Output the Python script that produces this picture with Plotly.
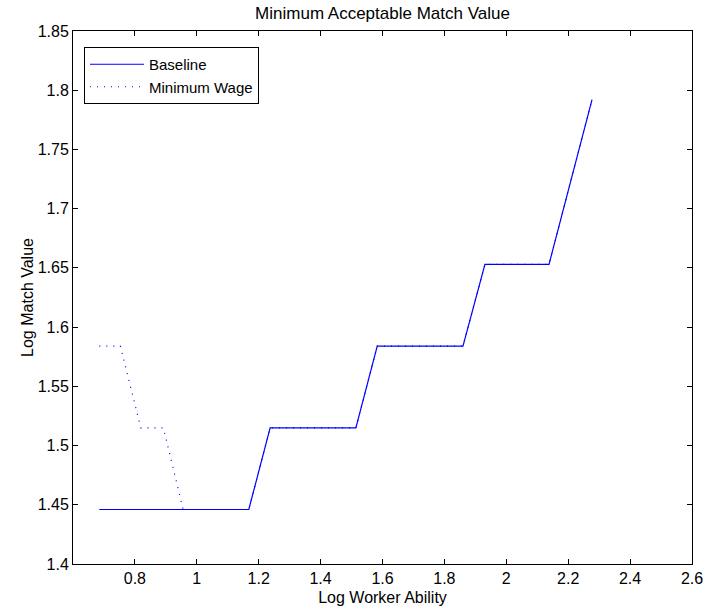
import plotly.graph_objects as go

# Data
baseline_x = [0.685, 1.168, 1.237, 1.514, 1.583, 1.860, 1.931, 2.138, 2.277]
baseline_y = [1.446, 1.446, 1.515, 1.515, 1.584, 1.584, 1.653, 1.653, 1.792]

minwage_x = [0.685, 0.753, 0.819, 0.892, 0.956, 1.168, 1.237, 1.514, 1.583, 1.860, 1.931, 2.138, 2.277]
minwage_y = [1.584, 1.584, 1.515, 1.515, 1.446, 1.446, 1.515, 1.515, 1.584, 1.584, 1.653, 1.653, 1.792]

x_ticks = [0.8, 1, 1.2, 1.4, 1.6, 1.8, 2, 2.2, 2.4, 2.6]
x_tick_labels = ["0.8", "1", "1.2", "1.4", "1.6", "1.8", "2", "2.2", "2.4", "2.6"]
y_ticks = [1.4, 1.45, 1.5, 1.55, 1.6, 1.65, 1.7, 1.75, 1.8, 1.85]
y_tick_labels = ["1.4", "1.45", "1.5", "1.55", "1.6", "1.65", "1.7", "1.75", "1.8", "1.85"]

FONT = "Liberation Sans, Arial, Helvetica, sans-serif"
FS = 16

fig = go.Figure()
fig.add_trace(go.Scatter(x=baseline_x, y=baseline_y, mode="lines", name="Baseline",
                         line=dict(color="#0000ff", width=1.2, dash="solid")))
fig.add_trace(go.Scatter(x=minwage_x, y=minwage_y, mode="lines", name="Minimum Wage",
                         line=dict(color="#0000ff", width=1.2, dash="1px,6px")))

axis_common = dict(showline=True, linecolor="black", linewidth=1, mirror="ticks",
                   ticks="inside", ticklen=5, tickcolor="black", showgrid=False,
                   zeroline=False, automargin=False,
                   tickfont=dict(family=FONT, size=FS, color="black"))

fig.update_layout(
    width=706, height=612,
    margin=dict(l=73, r=14, t=31, b=48),
    paper_bgcolor="white", plot_bgcolor="white",
    font=dict(family=FONT, size=FS, color="black"),
    title=dict(text="Minimum Acceptable Match Value", x=0.5, xanchor="center",
               xref="paper", y=1 - 13 / 612, yanchor="middle",
               font=dict(family=FONT, size=17, color="black")),
    xaxis=dict(range=[0.6, 2.6], tickvals=x_ticks, ticktext=x_tick_labels,
               title=dict(text="Log Worker Ability", standoff=5,
                          font=dict(family=FONT, size=FS, color="black")),
               **axis_common),
    yaxis=dict(range=[1.4, 1.85], tickvals=y_ticks, ticktext=y_tick_labels,
               title=dict(text="Log Match Value", standoff=0,
                          font=dict(family=FONT, size=FS, color="black")),
               **axis_common),
    legend=dict(x=(84 - 73) / 619, y=1 - (47 - 31) / 533, xanchor="left", yanchor="top",
                bordercolor="black", borderwidth=1, bgcolor="white",
                font=dict(family=FONT, size=15, color="black"),
                tracegroupgap=0, itemwidth=54),
    showlegend=True,
)

fig.write_html("out.html", config={"displayModeBar": False},
               post_script="document.body.style.margin='0';")
